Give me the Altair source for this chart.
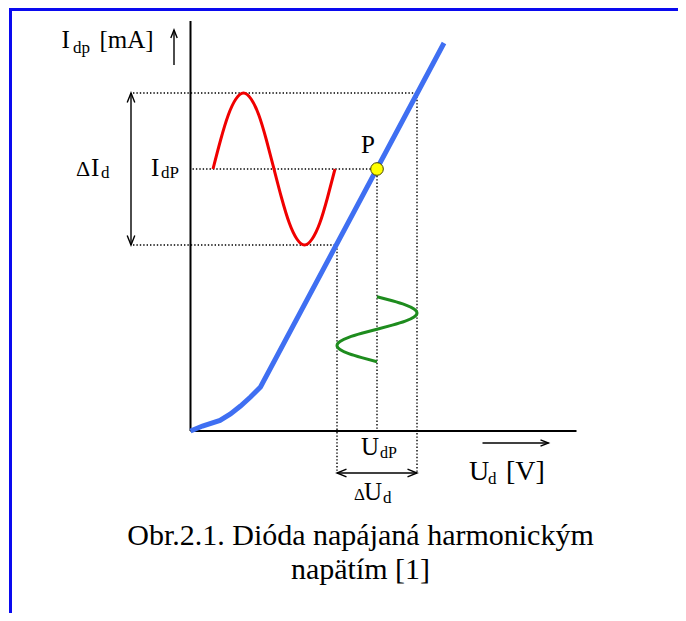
import altair as alt
import pandas as pd

# ---------------- data (diagram units: U_d and I_dp, arbitrary) ----------------
# diode characteristic I_dp = f(U_d)
diode_u = [0.0, 1.2, 2.95, 4.0, 5.0, 6.0, 7.0, 25.35]
diode_i = [0.0, 0.5, 1.05, 1.7, 2.5, 3.4, 4.4, 38.8]

# operating point P and swings
U_dP = 18.65
I_dP = 26.2
half_dU = 4.0
half_dI = 7.6

# red current wave (drawn along the current axis, left of the characteristic)
red_u = [2.25, 3.01, 3.78, 4.54, 5.30, 6.06, 6.83, 7.59, 8.35, 9.11, 9.88,
         10.64, 11.40, 12.16, 12.93, 13.69, 14.45]
red_i = [26.2, 29.1, 31.6, 33.2, 33.8, 33.2, 31.6, 29.1, 26.2, 23.3, 20.8,
         19.2, 18.6, 19.2, 20.8, 23.3, 26.2]

# green voltage wave (drawn vertically, below P)
green_u = [18.65, 20.18, 21.48, 22.35, 22.65, 22.35, 21.48, 20.18, 18.65,
           17.12, 15.82, 14.95, 14.65, 14.95, 15.82, 17.12, 18.65]
green_i = [13.43, 13.02, 12.62, 12.21, 11.81, 11.40, 10.99, 10.59, 10.18,
           9.77, 9.37, 8.96, 8.56, 8.15, 7.74, 7.34, 6.93]

# axes extents
u_axis_end = 38.6
i_axis_end = 41.0

caption = ["Obr.2.1. Dióda napájaná harmonickým", "napätím [1]"]

# ---------------- scales ----------------
W, H = 670, 605
xs = alt.Scale(domain=[-18.25, 48.75], nice=False, zero=False)
ys = alt.Scale(domain=[-18.2, 42.3], nice=False, zero=False)


def X(f):
    return alt.X(f, type="quantitative", scale=xs, axis=None)


def Y(f):
    return alt.Y(f, type="quantitative", scale=ys, axis=None)


lo_u = U_dP - half_dU
hi_u = U_dP + half_dU
lo_i = I_dP - half_dI
hi_i = I_dP + half_dI

# dotted guide segments
dotted = pd.DataFrame({
    "u":  [-5.75, 0.2, -5.75, lo_u, U_dP, hi_u],
    "i":  [hi_i, I_dP, lo_i, lo_i, I_dP, hi_i],
    "u2": [hi_u, U_dP, lo_u, lo_u, U_dP, hi_u],
    "i2": [hi_i, I_dP, lo_i, -4.1, 0.0, -4.1],
})

axes_df = pd.DataFrame({
    "u": [0.0, 0.0], "i": [0.0, 0.0],
    "u2": [0.0, u_axis_end], "i2": [i_axis_end, 0.0],
})

arrows_df = pd.DataFrame({
    "u":  [-5.95, -1.65, 29.2, lo_u],
    "i":  [lo_i, 36.6, -1.2, -4.2],
    "u2": [-5.95, -1.65, 35.8, hi_u],
    "i2": [hi_i, 40.1, -1.2, -4.2],
})

heads_big = pd.DataFrame({
    "u": [-5.95, -5.95, lo_u, hi_u],
    "i": [hi_i, lo_i, -4.2, -4.2],
    "ang": [0, 180, 270, 90],
})
heads_small = pd.DataFrame({
    "u": [-1.65, 35.8],
    "i": [40.1, -1.2],
    "ang": [0, 90],
})

diode = pd.DataFrame({"u": diode_u, "i": diode_i})
red = pd.DataFrame({"u": red_u, "i": red_i})
green = pd.DataFrame({"u": green_u, "i": green_i, "k": list(range(len(green_u)))})
point = pd.DataFrame({"u": [U_dP], "i": [I_dP]})
one = pd.DataFrame({"a": [0]})

FONT = "'Liberation Serif', 'Times New Roman', 'DejaVu Serif', serif"

layers = []

# blue frame
layers.append(alt.Chart(one).mark_rule(color="#0a0aef", strokeWidth=3).encode(
    x=alt.value(2.5), y=alt.value(0), y2=alt.value(H)))
layers.append(alt.Chart(one).mark_rule(color="#0a0aef", strokeWidth=3).encode(
    x=alt.value(1), x2=alt.value(W), y=alt.value(1.5)))

# dotted guides
layers.append(alt.Chart(dotted).mark_rule(color="black", strokeWidth=1.4,
                                          strokeDash=[1.4, 2]).encode(
    x=X("u"), y=Y("i"), x2="u2", y2="i2"))

# axes
layers.append(alt.Chart(axes_df).mark_rule(color="black", strokeWidth=2).encode(
    x=X("u"), y=Y("i"), x2="u2", y2="i2"))

# arrows
layers.append(alt.Chart(arrows_df).mark_rule(color="black", strokeWidth=1.4).encode(
    x=X("u"), y=Y("i"), x2="u2", y2="i2"))
arrow_shape = "M -0.4 1 L 0 0 L 0.4 1"
layers.append(alt.Chart(heads_big).mark_point(shape=arrow_shape, filled=False,
                                              color="black", strokeWidth=1.4,
                                              size=360, opacity=1).encode(
    x=X("u"), y=Y("i"), angle=alt.Angle("ang:Q", scale=None)))
layers.append(alt.Chart(heads_small).mark_point(shape=arrow_shape, filled=False,
                                                color="black", strokeWidth=1.4,
                                                size=256, opacity=1).encode(
    x=X("u"), y=Y("i"), angle=alt.Angle("ang:Q", scale=None)))

# diode characteristic
layers.append(alt.Chart(diode).mark_line(color="#3f6ff2", strokeWidth=5).encode(
    x=X("u"), y=Y("i")))

# red and green waves
layers.append(alt.Chart(red).mark_line(color="#f00000", strokeWidth=3,
                                       interpolate="natural").encode(
    x=X("u"), y=Y("i")))
layers.append(alt.Chart(green).mark_line(color="#1e8c1e", strokeWidth=3,
                                         interpolate="natural").encode(
    x=X("u"), y=Y("i"), order="k:Q"))

# operating point
layers.append(alt.Chart(point).mark_point(shape="circle", filled=True,
                                          fill="#ffff00", stroke="#444400",
                                          strokeWidth=1, size=160, opacity=1).encode(
    x=X("u"), y=Y("i")))


# text pieces: (text, u, i)
def texts(rows, size, align="left"):
    df = pd.DataFrame(rows, columns=["t", "u", "i"])
    return alt.Chart(df).mark_text(font=FONT, fontSize=size, align=align,
                                   baseline="alphabetic", color="black").encode(
        x=X("u"), y=Y("i"), text="t:N")


layers.append(texts([["I", -12.9, 38.3], ["[mA]", -9.1, 38.3],
                     ["I", -9.95, 25.5], ["I", -3.95, 25.5]], 25))
layers.append(texts([["dp", -11.75, 37.8], ["d", -8.95, 25.3],
                     ["dP", -2.95, 25.3]], 17))
layers.append(texts([["Δ", -11.45, 25.5]], 22))
layers.append(texts([["P", 17.05, 27.8], ["U", 17.05, -2.4], ["U", 17.35, -6.9]], 25))
layers.append(texts([["dP", 18.95, -2.7]], 16))
layers.append(texts([["U", 27.85, -4.9], ["[V]", 31.55, -4.9]], 28))
layers.append(texts([["d", 29.75, -5.3], ["d", 19.25, -7.2], ["Δ", 16.35, -6.9]], 17))
layers.append(texts([[caption[0], 17.0, -11.4]], 30, align="center"))
layers.append(texts([[caption[1], 17.0, -14.8]], 30, align="center"))

chart = alt.layer(*layers).properties(
    width=W, height=H, padding=0, autosize="none"
).configure_view(stroke=None)

chart.save("out.html", embed_options={"renderer": "svg", "actions": False})
